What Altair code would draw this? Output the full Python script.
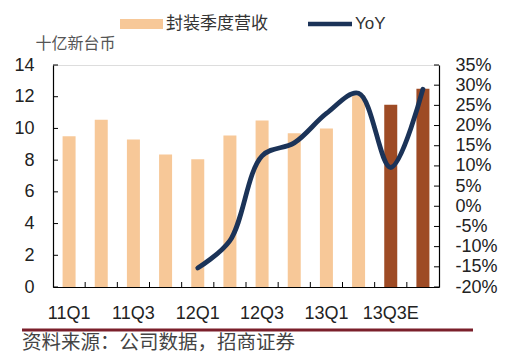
import altair as alt
import pandas as pd

quarters = ["11Q1", "11Q2", "11Q3", "11Q4", "12Q1", "12Q2", "12Q3", "12Q4",
            "13Q1", "13Q2", "13Q3E", "13Q4E"]
revenue = [9.5, 10.55, 9.3, 8.35, 8.05, 9.55, 10.5, 9.7, 10.0, 12.1, 11.5, 12.5]
estimate = [False] * 10 + [True, True]
yoy_quarters = ["12Q1", "12Q2", "12Q3", "12Q4", "13Q1", "13Q2", "13Q3E", "13Q4E"]
yoy = [-15.3, -8.5, 12.5, 15.7, 23.0, 28.0, 9.6, 29.0]
x_labels = ["11Q1", "11Q3", "12Q1", "12Q3", "13Q1", "13Q3E"]
left_ticks = [0, 2, 4, 6, 8, 10, 12, 14]
right_ticks = [-20, -15, -10, -5, 0, 5, 10, 15, 20, 25, 30, 35]
legend_labels = ["封装季度营收", "YoY"]
unit_label = "十亿新台币"
source_text = "资料来源：公司数据，招商证券"

LIGHT = "#F7C898"
DARK = "#9E4B25"
NAVY = "#1B3358"
W, H = 386, 222
NUM_FONT = "Liberation Sans"
CJK_FONT = "Noto Sans CJK SC"

bars_df = pd.DataFrame({"q": quarters, "rev": revenue,
                        "est": ["E" if e else "A" for e in estimate]})
line_df = pd.DataFrame({"q": yoy_quarters, "yoy": yoy})
lt_df = pd.DataFrame({"v": left_ticks})
rt_df = pd.DataFrame({"v": right_ticks})
bt_df = pd.DataFrame({"q": quarters[1:]})
leg_df = pd.DataFrame({"label": legend_labels})

xscale = alt.Scale(domain=quarters, paddingInner=0, paddingOuter=0)
yl_scale = alt.Scale(domain=[0, 14], nice=False, zero=True)
yr_scale = alt.Scale(domain=[-20, 35], nice=False, zero=False)

bars = alt.Chart(bars_df).mark_bar(size=13).encode(
    x=alt.X("q:N", scale=xscale, sort=quarters,
            axis=alt.Axis(values=x_labels, title=None, tickSize=0, labelPadding=17,
                          labelFontSize=18, labelFont=NUM_FONT, labelColor="#222",
                          labelAngle=0, domainColor="black", domainWidth=1.2)),
    y=alt.Y("rev:Q", scale=yl_scale,
            axis=alt.Axis(orient="left", values=left_ticks, tickSize=0, labelPadding=19,
                          labelFontSize=18, labelFont=NUM_FONT, labelColor="#222",
                          domainColor="black", domainWidth=1.2, grid=False,
                          title=unit_label, titleAngle=0, titleX=-18, titleY=-22,
                          titleAlign="left", titleBaseline="middle", titleFont=CJK_FONT,
                          titleFontSize=16, titleFontWeight="normal", titleColor="#555")),
    color=alt.Color("est:N", scale=alt.Scale(domain=["A", "E"], range=[LIGHT, DARK]),
                    legend=None),
)

line = alt.Chart(line_df).mark_line(interpolate="catmull-rom", color=NAVY,
                                    strokeWidth=4.8, strokeCap="round").encode(
    x=alt.X("q:N", scale=xscale, sort=quarters),
    y=alt.Y("yoy:Q", scale=yr_scale,
            axis=alt.Axis(orient="right", values=right_ticks, tickSize=0, labelPadding=16,
                          labelFontSize=18, labelFont=NUM_FONT, labelColor="#222",
                          labelExpr="datum.value + '%'", domainColor="black",
                          domainWidth=1.2, grid=False, title=None)),
)

lticks = alt.Chart(lt_df).mark_rule(color="black", strokeWidth=1).encode(
    y=alt.Y("v:Q", scale=yl_scale, axis=None), x=alt.value(0), x2=alt.value(5))
rticks = alt.Chart(rt_df).mark_rule(color="black", strokeWidth=1).encode(
    y=alt.Y("v:Q", scale=yr_scale, axis=None), x=alt.value(W - 5), x2=alt.value(W))
bticks = alt.Chart(bt_df).mark_rule(color="black", strokeWidth=1).encode(
    x=alt.X("q:N", scale=xscale, sort=quarters, bandPosition=0),
    y=alt.value(H - 5), y2=alt.value(H))

leg_sw1 = alt.Chart(leg_df.iloc[[0]]).mark_rect(color=LIGHT).encode(
    x=alt.value(67), x2=alt.value(110), y=alt.value(-46), y2=alt.value(-36))
leg_sw2 = alt.Chart(leg_df.iloc[[1]]).mark_rule(color=NAVY, strokeWidth=4.5).encode(
    x=alt.value(255), x2=alt.value(299), y=alt.value(-41))
leg_t1 = alt.Chart(leg_df.iloc[[0]]).mark_text(
    align="left", baseline="middle", font=CJK_FONT, fontSize=17, color="#333").encode(
    x=alt.value(113), y=alt.value(-41), text="label:N")
leg_t2 = alt.Chart(leg_df.iloc[[1]]).mark_text(
    align="left", baseline="middle", font=NUM_FONT, fontSize=17, color="#333").encode(
    x=alt.value(302), y=alt.value(-41), text="label:N")

foot_rule = alt.Chart(leg_df.iloc[[0]]).mark_rule(color="#7B1F2B", strokeWidth=3).encode(
    x=alt.value(-31), x2=alt.value(420), y=alt.value(265))
foot_text = alt.Chart(leg_df.iloc[[0]]).mark_text(
    align="left", baseline="middle", font=CJK_FONT, fontSize=19.5, color="#444").encode(
    x=alt.value(-31), y=alt.value(278), text=alt.value(source_text))

chart = alt.layer(
    bars, line, lticks, rticks, bticks, leg_sw1, leg_sw2, leg_t1, leg_t2, foot_rule, foot_text
).resolve_scale(y="independent").properties(
    width=W, height=H,
    autosize=alt.AutoSizeParams(type="none"),
    padding={"left": 45, "top": 57, "right": 64, "bottom": 67},
).configure_view(stroke=None).configure(background="white")

chart.save("out.html", embed_options={"renderer": "svg", "actions": False})
